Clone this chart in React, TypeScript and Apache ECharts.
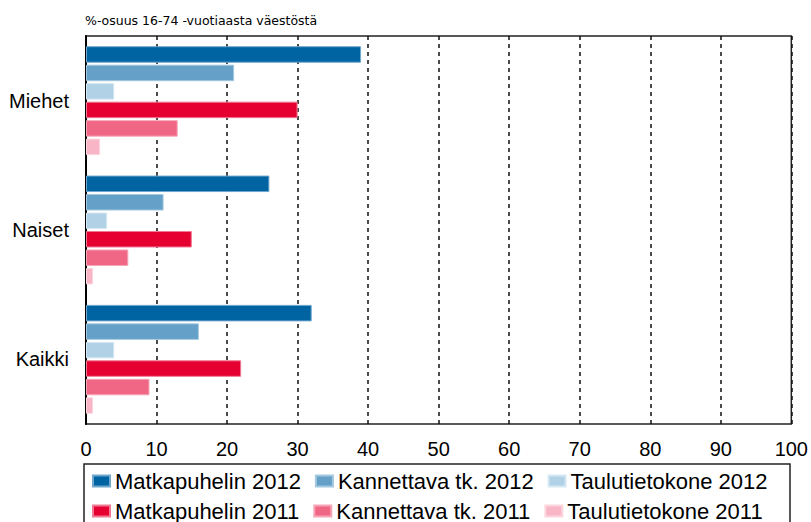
import React, { useEffect, useRef } from "react";
import * as echarts from "echarts";

const categories = ["Miehet", "Naiset", "Kaikki"];
const seriesNames = [
  "Matkapuhelin 2012",
  "Kannettava tk. 2012",
  "Taulutietokone 2012",
  "Matkapuhelin 2011",
  "Kannettava tk. 2011",
  "Taulutietokone 2011",
];
const matkapuhelin2012 = [39, 26, 32];
const kannettava2012 = [21, 11, 16];
const taulutietokone2012 = [4, 3, 4];
const matkapuhelin2011 = [30, 15, 22];
const kannettava2011 = [13, 6, 9];
const taulutietokone2011 = [2, 1, 1];
const seriesValues = [
  matkapuhelin2012,
  kannettava2012,
  taulutietokone2012,
  matkapuhelin2011,
  kannettava2011,
  taulutietokone2011,
];
const colors = ["#0063a2", "#64a0c8", "#b1d2e6", "#e60032", "#f06685", "#f8b5c5"];
const borderColors = ["#6fa6cc", "#a3c7df", "#d5e7f2", "#f07a94", "#f7a6b8", "#fbd6df"];
const titleText = "%-osuus 16-74 -vuotiaasta väestöstä";

export default function App() {
  const ref = useRef<HTMLDivElement>(null);
  useEffect(() => {
    if (!ref.current) return;
    const chart = echarts.init(ref.current, null, { renderer: "svg" });
    const font = "Liberation Sans, Arial, sans-serif";
    const legendBase = {
      left: 92,
      padding: 0,
      itemGap: 14,
      itemWidth: 17,
      itemHeight: 11,
      icon: "rect",
      textStyle: { fontFamily: font, fontSize: 22, color: "#000", lineHeight: 22 },
      selectedMode: false,
    };
    chart.setOption({
      animation: false,
      backgroundColor: "#ffffff",
      title: {
        text: titleText,
        left: 85,
        top: 14,
        padding: 0,
        textStyle: {
          fontFamily: "DejaVu Sans, sans-serif",
          fontSize: 12.5,
          fontWeight: "normal",
          color: "#000",
        },
      },
      grid: {
        left: 86,
        right: 14,
        top: 36,
        bottom: 98,
        show: true,
        borderColor: "#222",
        borderWidth: 1.5,
        backgroundColor: "transparent",
      },
      xAxis: {
        type: "value",
        min: 0,
        max: 100,
        interval: 10,
        axisLine: { show: false },
        axisTick: { show: false },
        axisLabel: {
          fontFamily: font,
          fontSize: 20,
          color: "#000",
          margin: 15,
        },
        splitLine: {
          show: true,
          lineStyle: { color: "#111", width: 1.5, type: [4, 4] },
        },
      },
      yAxis: {
        type: "category",
        inverse: true,
        data: categories,
        axisLine: { show: true, lineStyle: { color: "#000", width: 2 } },
        axisTick: { show: false },
        axisLabel: {
          fontFamily: font,
          fontSize: 20,
          color: "#000",
          margin: 17,
        },
        splitLine: { show: false },
      },
      legend: [
        { ...legendBase, data: seriesNames.slice(0, 3), top: 470 },
        { ...legendBase, data: seriesNames.slice(3, 6), top: 500 },
      ],
      graphic: [
        {
          type: "rect",
          shape: { x: 84, y: 464, width: 706, height: 80 },
          style: { fill: "none", stroke: "#222", lineWidth: 1.5 },
          silent: true,
        },
      ],
      series: seriesNames.map((name, i) => ({
        name,
        type: "bar",
        data: seriesValues[i],
        barWidth: 16.5,
        barGap: "12%",
        itemStyle: {
          color: colors[i],
          borderColor: borderColors[i],
          borderWidth: 1,
        },
      })),
    });
    return () => chart.dispose();
  }, []);
  return (
    <div
      ref={ref}
      style={{ position: "fixed", left: 0, top: 0, width: 811, height: 522 }}
    />
  );
}
